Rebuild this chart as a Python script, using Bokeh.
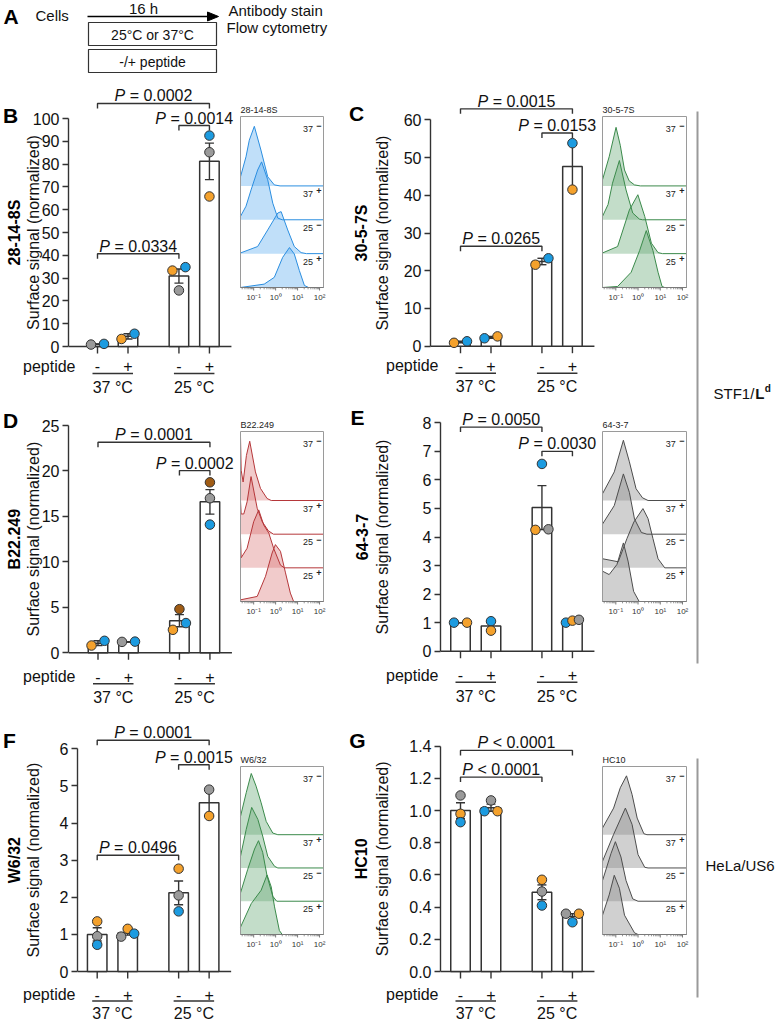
import math

from bokeh.core.properties import value
from bokeh.embed import file_html
from bokeh.layouts import column, row
from bokeh.models import FixedTicker, LinearAxis, PrintfTickFormatter, Range1d
from bokeh.plotting import figure
from bokeh.resources import INLINE

# ------------------------------------------------------------------ data
conditions = ["37 °C", "25 °C"]
peptide_marks = ["-", "+", "-", "+"]

# 28-14-8S (STF1/Ld)
b_mean = [1.0, 4.45, 30.9, 81.2]
b_sem = [0.15, 1.15, 3.1, 8.0]
b_dot_bar = [0, 0, 1, 1, 2, 2, 2, 3, 3, 3]
b_dot_val = [0.85, 1.15, 3.3, 5.6, 24.6, 33.3, 34.8, 92.5, 85.2, 65.8]
b_dot_rep = ["gray", "blue", "orange", "blue", "gray", "orange", "blue", "blue", "gray", "orange"]
b_pairs = [(0, 3), (2, 3), (0, 2)]
b_pvals = ["= 0.0002", "= 0.0014", "= 0.0334"]

# 30-5-7S (STF1/Ld)
c_mean = [1.1, 2.35, 22.45, 47.65]
c_sem = [0.2, 0.25, 0.85, 6.15]
c_dot_bar = [0, 0, 1, 1, 2, 2, 3, 3]
c_dot_val = [0.9, 1.3, 2.1, 2.6, 21.6, 23.3, 53.8, 41.5]
c_dot_rep = ["orange", "blue", "blue", "orange", "orange", "blue", "blue", "orange"]
c_pairs = [(0, 3), (2, 3), (0, 2)]
c_pvals = ["= 0.0015", "= 0.0153", "= 0.0265"]

# B22.249 (STF1/Ld)
d_mean = [1.06, 1.2, 3.53, 16.6]
d_sem = [0.26, 0.03, 0.67, 1.35]
d_dot_bar = [0, 0, 1, 1, 2, 2, 2, 3, 3, 3]
d_dot_val = [0.8, 1.32, 1.2, 1.23, 4.8, 2.53, 3.27, 18.75, 17.0, 14.1]
d_dot_rep = ["orange", "blue", "gray", "blue", "brown", "orange", "blue", "brown", "gray", "blue"]
d_pairs = [(0, 3), (2, 3)]
d_pvals = ["= 0.0001", "= 0.0002"]

# 64-3-7 (STF1/Ld)
e_mean = [1.0, 0.885, 5.03, 1.06]
e_sem = [0.0, 0.165, 0.77, 0.03]
e_dot_bar = [0, 0, 1, 1, 2, 2, 2, 3, 3, 3]
e_dot_val = [1.0, 1.0, 1.05, 0.72, 6.56, 4.25, 4.27, 1.0, 1.07, 1.1]
e_dot_rep = ["blue", "orange", "blue", "orange", "blue", "orange", "gray", "blue", "orange", "gray"]
e_pairs = [(0, 2), (2, 3)]
e_pvals = ["= 0.0050", "= 0.0030"]

# W6/32 (HeLa/US6)
f_mean = [1.0, 1.04, 2.12, 4.545]
f_sem = [0.18, 0.06, 0.32, 0.355]
f_dot_bar = [0, 0, 0, 1, 1, 1, 2, 2, 2, 3, 3]
f_dot_val = [1.35, 0.95, 0.72, 0.94, 1.15, 1.02, 2.77, 2.05, 1.62, 4.9, 4.19]
f_dot_rep = ["orange", "gray", "blue", "gray", "orange", "blue", "orange", "gray", "blue", "gray", "orange"]
f_pairs = [(0, 3), (2, 3), (0, 2)]
f_pvals = ["= 0.0001", "= 0.0015", "= 0.0496"]

# HC10 (HeLa/US6)
g_mean = [1.0, 1.018, 0.492, 0.341]
g_sem = [0.049, 0.022, 0.046, 0.018]
g_dot_bar = [0, 0, 0, 1, 1, 1, 2, 2, 2, 3, 3, 3]
g_dot_val = [1.094, 0.98, 0.928, 0.996, 1.063, 0.996, 0.57, 0.497, 0.41, 0.306, 0.359, 0.359]
g_dot_rep = ["gray", "orange", "blue", "blue", "gray", "orange", "orange", "gray", "blue", "blue", "gray", "orange"]
g_pairs = [(0, 3), (0, 2)]
g_pvals = ["< 0.0001", "< 0.0001"]

# flow histograms: log10 fluorescence vs. relative cell count, traces 37-, 37+, 25-, 25+
b_hist_lx = [[-1.6, -1.35, -1.2, -0.97, -0.67, -0.36, -0.06, 0.2],
             [-1.6, -1.35, -1.12, -0.82, -0.64, -0.36, -0.13, 0.1, 0.3],
             [-1.6, -0.82, -0.36, 0.1, 0.25, 0.55, 0.85, 1.16, 1.4],
             [-1.6, -0.52, -0.06, 0.32, 0.63, 0.85, 1.08, 1.31, 1.5]]
b_hist_h = [[0.27, 0.86, 1.35, 1.76, 1.06, 0.27, 0.03, 0.0],
            [0.1, 0.4, 0.88, 1.47, 1.71, 1.18, 0.49, 0.05, 0.0],
            [0.02, 0.21, 0.7, 1.2, 1.24, 0.7, 0.21, 0.03, 0.0],
            [0.0, 0.1, 0.3, 0.89, 1.18, 0.99, 0.5, 0.06, 0.0]]

c_hist_lx = [[-1.6, -1.3, -0.99, -0.8, -0.61, -0.4, -0.16, 0.1],
             [-1.6, -1.35, -1.15, -0.84, -0.54, -0.24, 0.06, 0.2],
             [-1.6, -0.92, -0.39, -0.01, 0.3, 0.6, 0.9, 1.1],
             [-1.6, -0.92, -0.31, 0.07, 0.37, 0.67, 0.9, 1.08, 1.2]]
c_hist_h = [[0.18, 0.86, 1.73, 1.2, 0.47, 0.15, 0.03, 0.0],
            [0.1, 0.45, 1.08, 1.75, 0.88, 0.2, 0.02, 0.0],
            [0.02, 0.21, 1.29, 1.74, 1.1, 0.31, 0.03, 0.0],
            [0.0, 0.03, 0.45, 1.09, 1.68, 1.09, 0.45, 0.03, 0.0]]

d_hist_lx = [[-1.6, -1.57, -1.48, -1.33, -1.18, -0.92, -0.69, -0.39, -0.2],
             [-1.6, -1.57, -1.45, -1.3, -1.12, -0.84, -0.61, -0.33, -0.1],
             [-1.6, -1.57, -1.3, -1.0, -0.77, -0.54, -0.31, -0.09, 0.22, 0.4],
             [-1.6, -0.84, -0.46, -0.16, -0.01, 0.22, 0.45, 0.67, 0.82]]
d_hist_h = [[1.9, 0.9, 0.55, 1.34, 1.76, 0.85, 0.36, 0.06, 0.0],
            [1.0, 0.6, 0.6, 0.96, 1.71, 0.77, 0.37, 0.1, 0.0],
            [0.9, 0.3, 0.58, 1.37, 1.72, 1.27, 1.03, 0.58, 0.08, 0.0],
            [0.05, 0.15, 0.75, 1.44, 1.69, 1.49, 0.85, 0.25, 0.0]]

e_hist_lx = [[-1.6, -1.07, -0.66, -0.39, -0.09, 0.2, 0.45],
             [-1.6, -1.07, -0.66, -0.39, -0.16, 0.15, 0.4],
             [-1.6, -0.89, -0.5, -0.19, 0.22, 0.45, 0.67, 0.9, 1.2],
             [-1.6, -1.3, -0.95, -0.66, -0.45, -0.2, 0.05]]
e_hist_h = [[0.2, 0.85, 1.79, 1.15, 0.35, 0.08, 0.0],
            [0.3, 0.85, 1.79, 1.24, 0.45, 0.05, 0.0],
            [0.27, 0.18, 0.87, 1.36, 1.76, 1.46, 0.87, 0.27, 0.0],
            [0.9, 0.8, 1.1, 1.74, 1.2, 0.3, 0.0]]

f_hist_lx = [[-1.6, -1.34, -1.11, -0.89, -0.66, -0.43, -0.13, 0.1],
             [-1.6, -1.34, -1.09, -0.81, -0.59, -0.36, -0.05, 0.1],
             [-1.6, -1.27, -0.96, -0.78, -0.59, -0.39, -0.13, 0.05],
             [-1.6, -1.11, -0.66, -0.39, -0.2, -0.05, 0.17, 0.3]]
f_hist_h = [[0.55, 1.26, 1.84, 1.46, 0.96, 0.4, 0.05, 0.0],
            [0.35, 1.16, 1.82, 1.46, 0.96, 0.35, 0.05, 0.0],
            [0.25, 0.96, 1.57, 1.82, 1.47, 0.76, 0.15, 0.0],
            [0.22, 0.93, 1.33, 1.79, 1.43, 0.83, 0.12, 0.0]]

g_hist_lx = [[-1.6, -1.1, -0.8, -0.52, -0.27, -0.04, 0.26, 0.4],
             [-1.6, -1.1, -0.57, -0.27, 0.0, 0.3, 0.45],
             [-1.6, -1.22, -1.02, -0.77, -0.54, -0.24, 0.0],
             [-1.6, -1.3, -1.07, -0.84, -0.61, -0.16, 0.0]]
g_hist_h = [[0.2, 0.8, 1.41, 1.77, 1.21, 0.5, 0.03, 0.0],
            [0.2, 1.01, 1.8, 1.31, 0.4, 0.02, 0.0],
            [0.62, 1.43, 1.79, 1.33, 0.62, 0.07, 0.0],
            [0.58, 1.19, 1.78, 1.39, 0.58, 0.05, 0.0]]
hist_tags = ["37", "37", "25", "25"]
hist_signs = ["−", "+", "−", "+"]
hist_decades = [-1, 0, 1, 2]
hist_decade_labels = ["10⁻¹", "10⁰", "10¹", "10²"]

# ------------------------------------------------------------------ style / layout
FONT = "Liberation Sans"
INK = "#111111"
LINE = "#333333"
REP_COLORS = {"orange": "#f4a12c", "blue": "#1c9be0", "gray": "#9a9a9a", "brown": "#a05c14"}
PALETTES = {
    "blue": ("#2b8ee0", "#5aaaf0", 0.38),
    "green": ("#3b8a4b", "#6aaa78", 0.40),
    "red": ("#b5373a", "#d87070", 0.36),
    "gray": ("#4d4d4d", "#8a8a8a", 0.40),
}

ROWS = [(80, 395), (395, 707), (707, 1022)]
HIST_BOX = [(116, 287), (431, 601), (766, 934)]
UNDER = [(19.5, 27, 40.5), (24, 31, 45), (23, 29.5, 42)]
UNIT = 30.5                     # px between neighbouring bars
POS = [0.0, 1.0, 2.67, 3.67]    # bar slots
BAR_W = 0.64
CAP_PX = 4.5
TICK_PX = 7
DOT_SIZE = 9.5
P_LIFT = 7.5                    # px from bracket line to text baseline
LX0, LX1, HY = -1.6, 2.18, 5.05

ADV = {"P": 0.667, " ": 0.278, "=": 0.584, "<": 0.584, ".": 0.278}


def text_w(s, size):
    return sum(ADV.get(ch, 0.556) for ch in s) * size


def new_fig(width, height, xr, yr, left=0):
    p = figure(width=width, height=height, x_range=xr, y_range=yr,
               x_axis_type=None, y_axis_type=None, toolbar_location=None,
               output_backend="svg", title=None,
               min_border_left=left, min_border_right=0,
               min_border_top=0, min_border_bottom=0)
    p.outline_line_color = None
    p.background_fill_color = "white"
    p.border_fill_color = "white"
    return p


def put(p, x, y, s, size, align="left", style="normal", color=INK, baseline="middle", angle=0.0):
    """Single text item; drawn on the overlay level so it may sit beside the frame."""
    p.text(x=[x], y=[y], text=[s], angle=angle, text_font=value(FONT),
           text_font_size=f"{size}px", text_font_style=style, text_align=align,
           text_baseline=baseline, text_color=color, level="overlay")


def swarm_offsets(bars, vals, s):
    """Horizontal px offsets so that points of similar value sit side by side."""
    off = [0.0] * len(vals)
    for b in sorted(set(bars)):
        idx = sorted((i for i in range(len(vals)) if bars[i] == b), key=lambda i: vals[i])
        clusters = []
        for i in idx:
            if clusters and (vals[i] - vals[clusters[-1][-1]]) * s < 7:
                clusters[-1].append(i)
            else:
                clusters.append([i])
        for cl in clusters:
            cl = sorted(cl)
            k = len(cl)
            for j, i in enumerate(cl):
                off[i] = 0.0 if k == 1 else -6.5 + 13.0 * j / (k - 1)
    return off


def bar_panel(spec, name, mean, sem, dot_bar, dot_val, dot_rep, pairs, pvals, brk_y):
    r_top, r_bot = ROWS[spec["row"]]
    zero = spec["zero"]
    s = (zero - spec["top"]) / spec["ymax"]
    c0 = spec["bar0"]

    def xd(px):
        return (px - c0) / UNIT

    def yd(py):
        return (zero - py) / s

    p = new_fig(spec["width"], r_bot - r_top,
                Range1d(xd(spec["axis"]), xd(spec["x0"] + spec["width"])),
                Range1d(yd(r_bot), yd(r_top)),
                left=spec["axis"] - spec["x0"])

    n = round(spec["ymax"] / spec["step"])
    ticks = [round(k * spec["step"], 3) for k in range(n + 1)]
    ax = LinearAxis(bounds=(0, spec["ymax"]), ticker=FixedTicker(ticks=ticks),
                    axis_line_color=LINE, axis_line_width=1.4,
                    major_tick_line_color=LINE, major_tick_line_width=1.4,
                    major_tick_out=6, major_tick_in=0, minor_tick_line_color=None,
                    major_label_text_font=FONT, major_label_text_font_size="16px",
                    major_label_text_color=INK, major_label_standoff=3)
    if spec.get("fmt"):
        ax.formatter = PrintfTickFormatter(format=spec["fmt"])
    p.add_layout(ax, "left")

    # x baseline and bar ticks
    p.segment(x0=[xd(spec["axis"])], y0=[0], x1=[POS[3] + 22 / UNIT], y1=[0],
              line_color=LINE, line_width=1.4)
    p.segment(x0=POS, y0=[0] * 4, x1=POS, y1=[yd(zero + TICK_PX)] * 4,
              line_color=LINE, line_width=1.4)

    # bars, mean +/- SEM, replicate points
    p.vbar(x=POS, top=mean, bottom=0, width=BAR_W, fill_color="white",
           line_color=LINE, line_width=1.5)
    lo = [m - e for m, e in zip(mean, sem)]
    hi = [m + e for m, e in zip(mean, sem)]
    cw = CAP_PX / UNIT
    p.segment(x0=POS, y0=lo, x1=POS, y1=hi, line_color=LINE, line_width=1.4)
    p.segment(x0=[x - cw for x in POS], y0=hi, x1=[x + cw for x in POS], y1=hi,
              line_color=LINE, line_width=1.4)
    p.segment(x0=[x - cw for x in POS], y0=lo, x1=[x + cw for x in POS], y1=lo,
              line_color=LINE, line_width=1.4)
    off = swarm_offsets(dot_bar, dot_val, s)
    p.scatter(x=[POS[b] + o / UNIT for b, o in zip(dot_bar, off)], y=dot_val,
              size=DOT_SIZE, fill_color=[REP_COLORS[r] for r in dot_rep],
              line_color=LINE, line_width=1)

    # treatment labels below the axis
    o1, o2, o3 = UNDER[spec["row"]]
    p.text(x=POS, y=[yd(zero + o1)] * 4, text=peptide_marks, text_font=value(FONT),
           text_font_size="16px", text_align="center", text_baseline="middle",
           text_color=INK, level="overlay")
    gl = 5 / UNIT
    p.segment(x0=[POS[0] - gl, POS[2] - gl], y0=[yd(zero + o2)] * 2,
              x1=[POS[1] + gl, POS[3] + gl], y1=[yd(zero + o2)] * 2,
              line_color=LINE, line_width=1.4)
    p.text(x=[(POS[0] + POS[1]) / 2, (POS[2] + POS[3]) / 2], y=[yd(zero + o3)] * 2,
           text=conditions, text_font=value(FONT), text_font_size="16px",
           text_align="center", text_baseline="middle", text_color=INK, level="overlay")
    put(p, xd(spec["pep_px"]), yd(zero + o1), "peptide", 16, "right")

    # significance brackets
    drop = 5 / s
    p.multi_line(xs=[[POS[i], POS[i], POS[j], POS[j]] for i, j in pairs],
                 ys=[[y - drop, y, y, y - drop] for y in brk_y],
                 line_color=LINE, line_width=1.4)
    wp, wsp = text_w("P", 16), text_w(" ", 16)
    xa, xb, ya = [], [], []
    for (i, j), y, pv in zip(pairs, brk_y, pvals):
        total = wp + wsp + text_w(pv, 16)
        cx = (POS[i] + POS[j]) / 2
        xa.append(cx + (wp - total / 2) / UNIT)
        xb.append(cx + (wp + wsp - total / 2) / UNIT)
        ya.append(y + P_LIFT / s)
    p.text(x=xa, y=ya, text=["P"] * len(xa), text_font=value(FONT), text_font_size="16px",
           text_font_style="italic", text_align="right", text_baseline="alphabetic",
           text_color=INK, level="overlay")
    p.text(x=xb, y=ya, text=pvals, text_font=value(FONT), text_font_size="16px",
           text_align="left", text_baseline="alphabetic", text_color=INK, level="overlay")

    # axis titles and panel letter
    mid = spec["ymax"] / 2
    put(p, xd(spec["name_px"]), mid, name, 16, "center", "bold", "#000000", angle=math.pi / 2)
    put(p, xd(spec["lab_px"]), mid, "Surface signal (normalized)", 16, "center",
        angle=math.pi / 2)
    lx, ly = spec["letter"]
    put(p, xd(lx), yd(ly), spec["tag"], 21, "center", "bold", "#000000")
    return p


def hist_panel(row_i, left, title, lxs, hs, pal):
    r_top, r_bot = ROWS[row_i]
    b_top, b_bot = HIST_BOX[row_i]
    x0, w, bl, br = (236, 94, 240, 323) if left else (597, 93, 602, 686)
    dpx = (br - bl) / (LX1 - LX0)        # px per decade
    band = (b_bot - b_top) / HY          # px per trace band
    p = new_fig(w, r_bot - r_top,
                Range1d(LX0 - (bl - x0) / dpx, LX1 + (x0 + w - br) / dpx),
                Range1d(-(r_bot - b_bot) / band, HY + (b_top - r_top) / band))
    line_c, fill_c, alpha = PALETTES[pal]
    for k in range(4):
        base = 3 - k
        p.varea(x=lxs[k], y1=[base] * len(lxs[k]), y2=[base + h for h in hs[k]],
                fill_color=fill_c, fill_alpha=alpha)
    for k in range(4):
        base = 3 - k
        p.line(x=lxs[k] + [LX1], y=[base + h for h in hs[k]] + [base],
               line_color=line_c, line_width=1)
    # frame box and log axis
    p.quad(left=[LX0], right=[LX1], bottom=[0], top=[HY], fill_color=None,
           line_color="#9a9a9a", line_width=1)
    p.segment(x0=[LX0], y0=[0], x1=[LX1], y1=[0], line_color="#7a7a7a", line_width=1)
    minor = [math.log10(m) + d for d in range(-2, 3) for m in range(2, 10)
             if LX0 <= math.log10(m) + d <= LX1]
    p.segment(x0=hist_decades, y0=[0] * 4, x1=hist_decades, y1=[-3 / band] * 4,
              line_color="#7a7a7a", line_width=1)
    p.segment(x0=minor, y0=[0] * len(minor), x1=minor, y1=[-1.8 / band] * len(minor),
              line_color="#7a7a7a", line_width=0.8)
    p.text(x=hist_decades, y=[-10 / band] * 4, text=hist_decade_labels, text_font=value(FONT),
           text_font_size="8px", text_align="center", text_baseline="middle",
           text_color="#333333")
    # condition tags and antibody name
    ys = [HY - 12 / band] + [(4 - k) - 8 / band for k in (1, 2, 3)]
    p.text(x=[1.7] * 4, y=ys, text=hist_tags, text_font=value(FONT), text_font_size="9px",
           text_align="right", text_baseline="middle", text_color="#222222")
    p.text(x=[1.97] * 4, y=[y + 2.5 / band for y in ys], text=hist_signs,
           text_font=value(FONT), text_font_size="9px", text_font_style="bold",
           text_align="center", text_baseline="middle", text_color="#222222")
    put(p, LX0, HY + 6.5 / band, title, 9, "left", color="#222222", baseline="alphabetic")
    return p


LEFT = dict(x0=0, width=236, pep_px=75, name_px=14, lab_px=33)
RIGHT = dict(x0=330, width=267, pep_px=438, name_px=361, lab_px=382)
SPECS = {
    "B": dict(LEFT, tag="B", row=0, axis=68, bar0=97, zero=346, top=118, ymax=100, step=10, letter=(10, 115)),
    "C": dict(RIGHT, tag="C", row=0, axis=430, bar0=460, zero=345.7, top=119.3, ymax=60, step=10, letter=(356, 113)),
    "D": dict(LEFT, tag="D", row=1, axis=68, bar0=97.5, zero=652.3, top=425, ymax=25, step=5, letter=(10, 420)),
    "E": dict(RIGHT, tag="E", row=1, axis=440, bar0=460, zero=650.7, top=422.3, ymax=8, step=1, letter=(357, 417)),
    "F": dict(LEFT, tag="F", row=2, axis=77, bar0=96.7, zero=971, top=748.3, ymax=6, step=1, letter=(9, 740)),
    "G": dict(RIGHT, tag="G", row=2, axis=440, bar0=460, zero=971, top=745.7, ymax=1.4, step=0.2, fmt="%.1f", letter=(357, 740)),
}
BRACKET_Y = {"B": [106.6, 96.9, 40.7], "C": [62.9, 56.5, 26.5], "D": [23.16, 20.04],
             "E": [7.85, 7.0], "F": [6.23, 5.57, 3.13], "G": [1.374, 1.208]}

pB = bar_panel(SPECS["B"], "28-14-8S", b_mean, b_sem, b_dot_bar, b_dot_val, b_dot_rep, b_pairs, b_pvals, BRACKET_Y["B"])
pC = bar_panel(SPECS["C"], "30-5-7S", c_mean, c_sem, c_dot_bar, c_dot_val, c_dot_rep, c_pairs, c_pvals, BRACKET_Y["C"])
pD = bar_panel(SPECS["D"], "B22.249", d_mean, d_sem, d_dot_bar, d_dot_val, d_dot_rep, d_pairs, d_pvals, BRACKET_Y["D"])
pE = bar_panel(SPECS["E"], "64-3-7", e_mean, e_sem, e_dot_bar, e_dot_val, e_dot_rep, e_pairs, e_pvals, BRACKET_Y["E"])
pF = bar_panel(SPECS["F"], "W6/32", f_mean, f_sem, f_dot_bar, f_dot_val, f_dot_rep, f_pairs, f_pvals, BRACKET_Y["F"])
pG = bar_panel(SPECS["G"], "HC10", g_mean, g_sem, g_dot_bar, g_dot_val, g_dot_rep, g_pairs, g_pvals, BRACKET_Y["G"])

hB = hist_panel(0, True, "28-14-8S", b_hist_lx, b_hist_h, "blue")
hC = hist_panel(0, False, "30-5-7S", c_hist_lx, c_hist_h, "green")
hD = hist_panel(1, True, "B22.249", d_hist_lx, d_hist_h, "red")
hE = hist_panel(1, False, "64-3-7", e_hist_lx, e_hist_h, "gray")
hF = hist_panel(2, True, "W6/32", f_hist_lx, f_hist_h, "green")
hG = hist_panel(2, False, "HC10", g_hist_lx, g_hist_h, "gray")

# ------------------------------------------------------------------ panel A: protocol scheme
pA = new_fig(690, 80, Range1d(0, 690), Range1d(80, 0))
put(pA, 10.5, 15.5, "A", 21, "center", "bold", "#000000")
put(pA, 35, 15, "Cells", 15)
put(pA, 143, 8, "16 h", 15, "center")
pA.segment(x0=[87], y0=[16], x1=[209], y1=[16], line_color="#000000", line_width=1.6)
pA.patch(x=[207, 218, 207], y=[11.5, 16, 20.5], fill_color="#000000", line_color="#000000")
pA.quad(left=[88, 88], right=[216, 216], top=[22, 49], bottom=[45, 72],
        fill_color=None, line_color=LINE, line_width=1.2)
put(pA, 152, 34, "25°C or 37°C", 14, "center")
put(pA, 152, 61, "-/+ peptide", 14, "center")
put(pA, 228, 9.5, "Antibody stain", 15)
put(pA, 226, 27, "Flow cytometry", 15)

# ------------------------------------------------------------------ cell-line brackets
side = new_fig(85, 1022, Range1d(690, 775), Range1d(1022, 0))
side.segment(x0=[697, 697], y0=[111, 758], x1=[697, 697], y1=[663, 997],
             line_color="#9a9a9a", line_width=2)
sx = 713
put(side, sx, 393, "STF1/", 15)
put(side, sx + text_w("STF1/", 15), 393, "L", 15, style="bold")
put(side, sx + text_w("STF1/", 15) + 9.6, 388, "d", 10, style="bold")
put(side, 705, 865, "HeLa/US6", 15)

grid = column(pA,
              row(pB, hB, pC, hC, spacing=0),
              row(pD, hD, pE, hE, spacing=0),
              row(pF, hF, pG, hG, spacing=0),
              spacing=0)
layout = row(grid, side, spacing=0)

open("out.html", "w").write(file_html(layout, INLINE))
